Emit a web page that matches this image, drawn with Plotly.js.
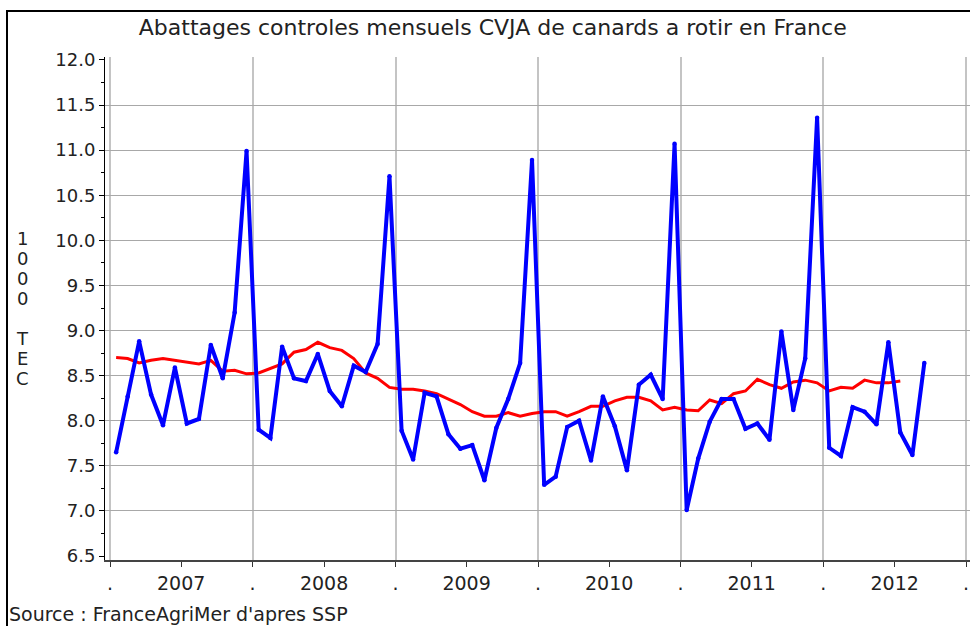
<!DOCTYPE html>
<html>
<head>
<meta charset="utf-8">
<script src="https://cdn.plot.ly/plotly-3.0.1.min.js"></script>
<style>
  html, body { margin: 0; padding: 0; background: #fff; }
  #wrap { position: relative; width: 970px; height: 626px; overflow: hidden; }
  #chart { position: absolute; left: 0; top: 0; width: 970px; height: 626px; }
  #frame { position: absolute; left: 6px; top: 10px; width: 980px; height: 640px;
           border-left: 2px solid #000; border-top: 2px solid #000; pointer-events: none; z-index: 10; }
</style>
</head>
<body>
<div id="wrap"><div id="chart"></div><div id="frame"></div></div>
<script>
// Months (x categories)
const months = [
  '2007-01','2007-02','2007-03','2007-04','2007-05','2007-06','2007-07','2007-08','2007-09','2007-10','2007-11','2007-12',
  '2008-01','2008-02','2008-03','2008-04','2008-05','2008-06','2008-07','2008-08','2008-09','2008-10','2008-11','2008-12',
  '2009-01','2009-02','2009-03','2009-04','2009-05','2009-06','2009-07','2009-08','2009-09','2009-10','2009-11','2009-12',
  '2010-01','2010-02','2010-03','2010-04','2010-05','2010-06','2010-07','2010-08','2010-09','2010-10','2010-11','2010-12',
  '2011-01','2011-02','2011-03','2011-04','2011-05','2011-06','2011-07','2011-08','2011-09','2011-10','2011-11','2011-12',
  '2012-01','2012-02','2012-03','2012-04','2012-05','2012-06','2012-07','2012-08','2012-09'
];

// Monthly slaughter (1000 TEC) - blue
const monthly = [
  7.65, 8.27, 8.88, 8.29, 7.95, 8.59, 7.97, 8.02, 8.84, 8.47, 9.20, 10.99,
  7.90, 7.81, 8.82, 8.47, 8.44, 8.74, 8.33, 8.16, 8.61, 8.54, 8.85, 10.71,
  7.89, 7.57, 8.31, 8.27, 7.85, 7.69, 7.73, 7.34, 7.92, 8.24, 8.64, 10.89,
  7.29, 7.38, 7.93, 8.00, 7.56, 8.27, 7.94, 7.45, 8.40, 8.51, 8.24, 11.07,
  7.01, 7.58, 7.99, 8.24, 8.24, 7.91, 7.97, 7.79, 8.99, 8.12, 8.69, 11.36,
  7.70, 7.61, 8.15, 8.10, 7.96, 8.87, 7.87, 7.62, 8.64
];

// Moving average - red
const movingAvg = [
  8.70, 8.69, 8.64, 8.67, 8.69, 8.67, 8.65, 8.63, 8.67, 8.55, 8.56, 8.52,
  8.53, 8.58, 8.63, 8.76, 8.79, 8.87, 8.81, 8.78, 8.69, 8.53, 8.47, 8.37,
  8.35, 8.35, 8.33, 8.30, 8.24, 8.18, 8.10, 8.05, 8.05, 8.09, 8.05, 8.08,
  8.10, 8.10, 8.05, 8.10, 8.16, 8.16, 8.22, 8.26, 8.26, 8.22, 8.12, 8.15,
  8.12, 8.11, 8.23, 8.19, 8.30, 8.33, 8.46, 8.40, 8.36, 8.43, 8.45, 8.42,
  8.33, 8.37, 8.36, 8.45, 8.42, 8.42, 8.44
];

// Tick labels
const yearBounds = ['2007-01-01','2008-01-01','2009-01-01','2010-01-01','2011-01-01','2012-01-01','2013-01-01'];
const yearMids = ['2007-07-02','2008-07-02','2009-07-02','2010-07-02','2011-07-02','2012-07-02'];
const yearLabels = ['2007','2008','2009','2010','2011','2012'];
const yTickVals = [7.0, 7.5, 8.0, 8.5, 9.0, 9.5, 10.0, 10.5, 11.0, 11.5];

const titleText = 'Abattages controles mensuels CVJA de canards a rotir en France';
const yTitleText = '1000 TEC';
const sourceText = "Source : FranceAgriMer d'apres SSP";

const FONT = 'DejaVu Sans, sans-serif';
const xRange = ['2006-12-19', '2013-01-11'];
const yRange = [6.456, 12.033];

// build x ticks: boundaries as "." and mid-years with year labels
const xTickVals = [], xTickText = [];
yearBounds.forEach((b, i) => {
  xTickVals.push(b); xTickText.push('.');
  if (i < yearMids.length) { xTickVals.push(yearMids[i]); xTickText.push(yearLabels[i]); }
});

const traces = [
  {
    type: 'scatter', mode: 'lines',
    x: months.slice(0, movingAvg.length), y: movingAvg,
    xperiod: 'M1', xperiodalignment: 'middle',
    line: { color: '#ff0000', width: 3 },
    hoverinfo: 'skip', showlegend: false
  },
  {
    type: 'scatter', mode: 'lines+markers',
    x: months, y: monthly,
    xperiod: 'M1', xperiodalignment: 'middle',
    line: { color: '#0000ff', width: 4 },
    marker: { color: '#0000ff', size: 4.5 },
    hoverinfo: 'skip', showlegend: false
  },
  {
    type: 'scatter', mode: 'lines', x: [], y: [],
    xaxis: 'x2', yaxis: 'y2', hoverinfo: 'skip', showlegend: false
  }
];

const yTitleChars = yTitleText.split('');
const annotations = yTitleChars.map((c, i) => ({
  xref: 'paper', yref: 'paper', x: 0, y: 0.5,
  xshift: -83, yshift: 70 - i * 20,
  xanchor: 'center', yanchor: 'middle',
  text: c === ' ' ? '' : c, showarrow: false,
  font: { family: FONT, size: 18, color: '#222' }
}));
annotations.push({
  xref: 'paper', yref: 'paper', x: 0, y: 0,
  xshift: -98, yshift: -54, xanchor: 'left', yanchor: 'middle',
  text: sourceText, showarrow: false,
  font: { family: FONT, size: 19, color: '#222' }
});

const layout = {
  width: 970, height: 626,
  margin: { l: 105, r: 0, t: 57, b: 66 },
  paper_bgcolor: '#fff', plot_bgcolor: '#fff',
  title: {
    text: titleText, x: 0.508, xanchor: 'center', y: 0.957, yanchor: 'middle',
    font: { family: FONT, size: 22, color: '#222' }
  },
  xaxis: {
    type: 'date', range: xRange,
    tickmode: 'array', tickvals: xTickVals, ticktext: xTickText,
    ticks: 'outside', ticklen: 5, tickwidth: 1, tickcolor: '#333',
    showgrid: false, zeroline: false,
    showline: true, linecolor: '#444', linewidth: 2,
    tickfont: { family: FONT, size: 19, color: '#222' }
  },
  yaxis: {
    range: yRange,
    tickmode: 'linear', tick0: 6.5, dtick: 0.5, tickformat: '.1f',
    ticks: 'outside', ticklen: 5, tickwidth: 1, tickcolor: '#000',
    minor: { tickmode: 'linear', tick0: 6.75, dtick: 0.5, ticks: 'outside', ticklen: 3, tickcolor: '#000', showgrid: false },
    showgrid: false, zeroline: false,
    showline: true, linecolor: '#000', linewidth: 1,
    tickfont: { family: FONT, size: 18, color: '#222' }
  },
  xaxis2: {
    type: 'date', overlaying: 'x', anchor: 'y2', range: xRange,
    tickmode: 'array', tickvals: yearBounds,
    showticklabels: false, ticks: '', showline: false, zeroline: false,
    showgrid: true, gridcolor: '#c4c4c4', gridwidth: 2
  },
  yaxis2: {
    overlaying: 'y', anchor: 'x2', range: yRange,
    tickmode: 'array', tickvals: yTickVals,
    showticklabels: false, ticks: '', showline: false, zeroline: false,
    showgrid: true, gridcolor: '#a8a8a8', gridwidth: 1
  },
  annotations: annotations
};

Plotly.newPlot('chart', traces, layout, { staticPlot: true, displayModeBar: false });
</script>
</body>
</html>
